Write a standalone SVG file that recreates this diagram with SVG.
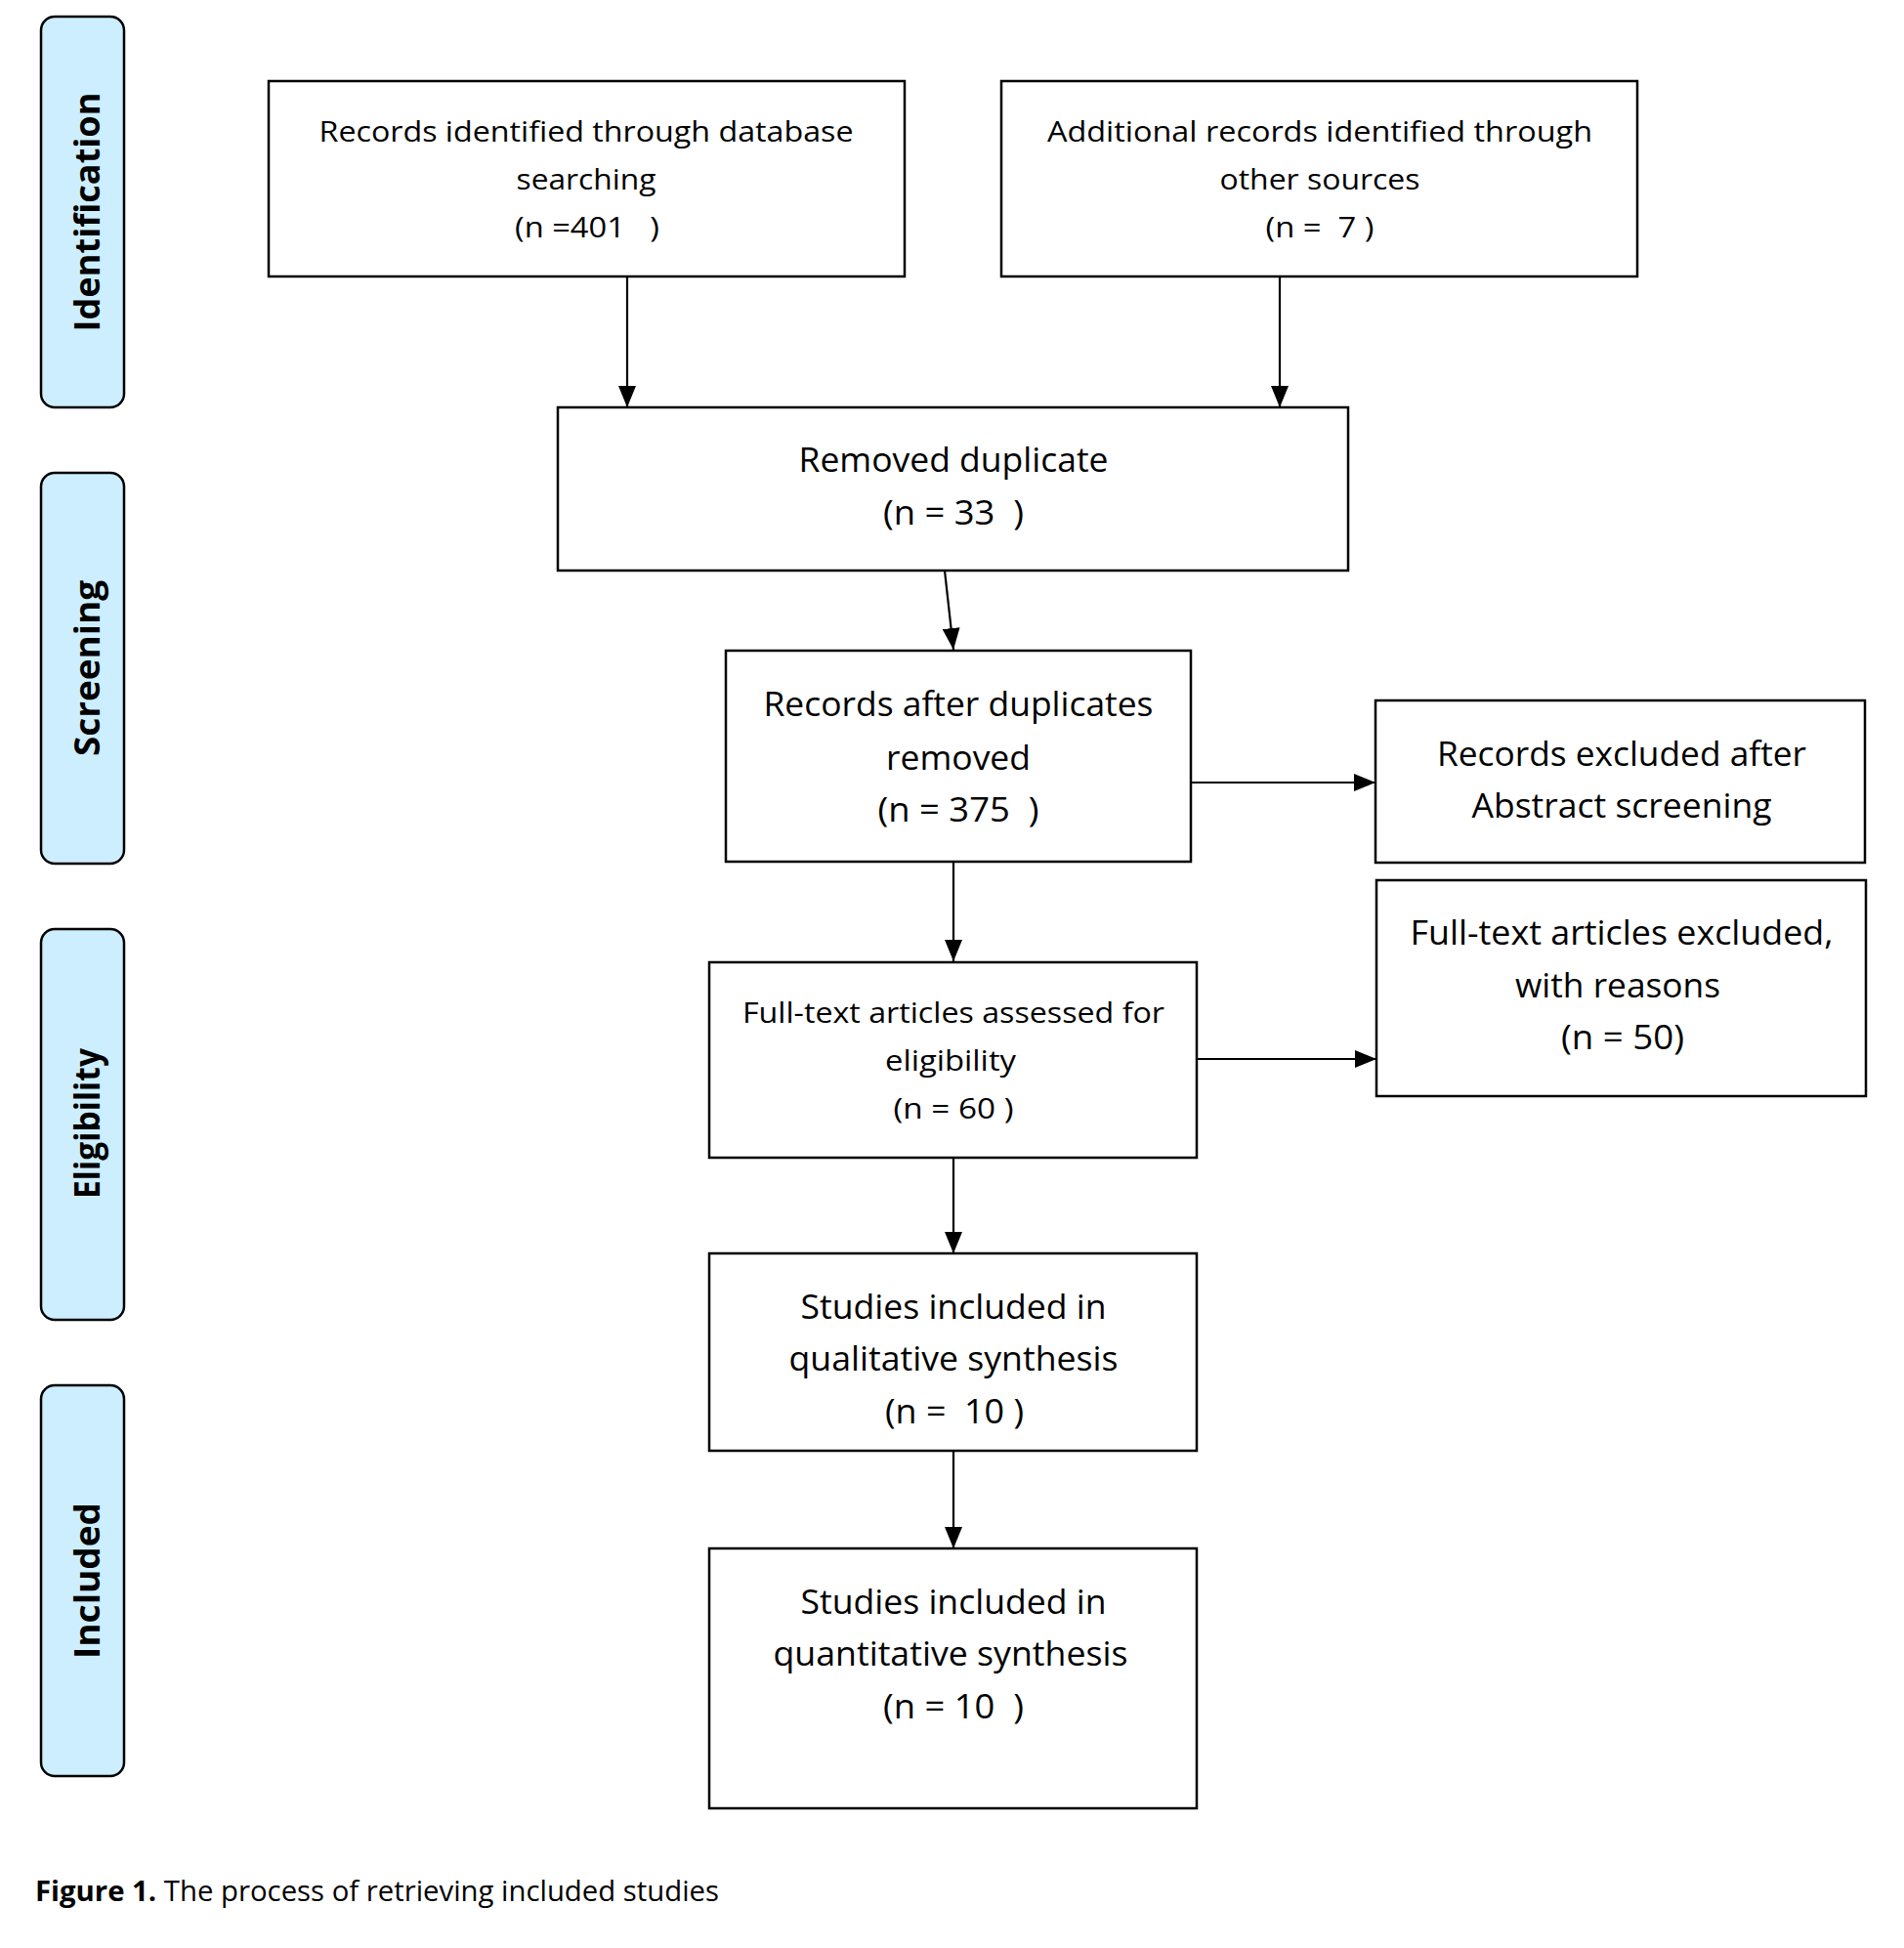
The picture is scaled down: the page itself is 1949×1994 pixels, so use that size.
<svg xmlns="http://www.w3.org/2000/svg" width="1949" height="1994" viewBox="0 0 1949 1994">
<defs>
<marker id="ah" markerWidth="22" markerHeight="18" refX="22" refY="9" orient="auto" markerUnits="userSpaceOnUse">
<path d="M0,0 L22,9 L0,18 Z" fill="#000"/>
</marker>
<style>
.box{fill:#fff;stroke:#000;stroke-width:2.5}
.stage{fill:#cceeff;stroke:#000;stroke-width:2.5}
.t{font-family:"Open Sans","Noto Sans","Liberation Sans",sans-serif;fill:#000;text-anchor:middle;white-space:pre}
.s{font-family:"Open Sans","Noto Sans","Liberation Sans",sans-serif;font-weight:bold;font-size:36px;fill:#000;text-anchor:middle}
.c{stroke:#000;stroke-width:2.2;fill:none;marker-end:url(#ah)}
.cap{font-family:"Open Sans","Noto Sans","Liberation Sans",sans-serif;font-size:29px;fill:#000}
</style>
</defs>
<rect width="1949" height="1994" fill="#fff"/>

<g id="stage-identification">
<rect class="stage" x="42" y="17" width="85" height="400" rx="14"/>
<text class="s" transform="translate(102,217) rotate(-90)" textLength="245" lengthAdjust="spacingAndGlyphs">Identification</text>
</g>
<g id="stage-screening">
<rect class="stage" x="42" y="484" width="85" height="400" rx="14"/>
<text class="s" transform="translate(102,684) rotate(-90)" textLength="180" lengthAdjust="spacingAndGlyphs">Screening</text>
</g>
<g id="stage-eligibility">
<rect class="stage" x="42" y="951" width="85" height="400" rx="14"/>
<text class="s" transform="translate(102,1150) rotate(-90)" textLength="154" lengthAdjust="spacingAndGlyphs">Eligibility</text>
</g>
<g id="stage-included">
<rect class="stage" x="42" y="1418" width="85" height="400" rx="14"/>
<text class="s" transform="translate(102,1618) rotate(-90)" textLength="160" lengthAdjust="spacingAndGlyphs">Included</text>
</g>

<g id="connectors">
<line class="c" x1="642" y1="283" x2="642" y2="417"/>
<line class="c" x1="1310" y1="283" x2="1310" y2="417"/>
<line class="c" x1="967" y1="584" x2="976" y2="665"/>
<line class="c" x1="1219" y1="801" x2="1408" y2="801"/>
<line class="c" x1="976" y1="882" x2="976" y2="984"/>
<line class="c" x1="1225" y1="1084" x2="1409" y2="1084"/>
<line class="c" x1="976" y1="1185" x2="976" y2="1283"/>
<line class="c" x1="976" y1="1485" x2="976" y2="1585"/>
</g>

<g id="node-database">
<rect class="box" x="275" y="83" width="651" height="200"/>
<text class="t" font-size="30" x="600" y="145" textLength="547" lengthAdjust="spacingAndGlyphs">Records identified through database</text>
<text class="t" font-size="30" x="600" y="194" textLength="143" lengthAdjust="spacingAndGlyphs">searching</text>
<text class="t" font-size="30" x="601" y="243" textLength="148" lengthAdjust="spacingAndGlyphs">(n =401   )</text>
</g>
<g id="node-other">
<rect class="box" x="1025" y="83" width="651" height="200"/>
<text class="t" font-size="30" x="1351" y="145" textLength="558" lengthAdjust="spacingAndGlyphs">Additional records identified through</text>
<text class="t" font-size="30" x="1351" y="194" textLength="205" lengthAdjust="spacingAndGlyphs">other sources</text>
<text class="t" font-size="30" x="1351" y="243" textLength="111" lengthAdjust="spacingAndGlyphs">(n =  7 )</text>
</g>
<g id="node-removed">
<rect class="box" x="571" y="417" width="809" height="167"/>
<text class="t" font-size="34" x="976" y="483" textLength="317" lengthAdjust="spacingAndGlyphs">Removed duplicate</text>
<text class="t" font-size="34" x="976" y="537" textLength="144" lengthAdjust="spacingAndGlyphs">(n = 33  )</text>
</g>
<g id="node-after">
<rect class="box" x="743" y="666" width="476" height="216"/>
<text class="t" font-size="34" x="981" y="733" textLength="399" lengthAdjust="spacingAndGlyphs">Records after duplicates</text>
<text class="t" font-size="34" x="981" y="788" textLength="148" lengthAdjust="spacingAndGlyphs">removed</text>
<text class="t" font-size="34" x="981" y="841" textLength="165" lengthAdjust="spacingAndGlyphs">(n = 375  )</text>
</g>
<g id="node-excluded-abstract">
<rect class="box" x="1408" y="717" width="501" height="166"/>
<text class="t" font-size="34" x="1660" y="784" textLength="378" lengthAdjust="spacingAndGlyphs">Records excluded after</text>
<text class="t" font-size="34" x="1660" y="837" textLength="307" lengthAdjust="spacingAndGlyphs">Abstract screening</text>
</g>
<g id="node-fulltext">
<rect class="box" x="726" y="985" width="499" height="200"/>
<text class="t" font-size="30" x="976" y="1047" textLength="432" lengthAdjust="spacingAndGlyphs">Full-text articles assessed for</text>
<text class="t" font-size="30" x="973" y="1096" textLength="134" lengthAdjust="spacingAndGlyphs">eligibility</text>
<text class="t" font-size="30" x="976" y="1145" textLength="123" lengthAdjust="spacingAndGlyphs">(n = 60 )</text>
</g>
<g id="node-excluded-fulltext">
<rect class="box" x="1409" y="901" width="501" height="221"/>
<text class="t" font-size="34" x="1660" y="967" textLength="433" lengthAdjust="spacingAndGlyphs">Full-text articles excluded,</text>
<text class="t" font-size="34" x="1656" y="1021" textLength="210" lengthAdjust="spacingAndGlyphs">with reasons</text>
<text class="t" font-size="34" x="1661" y="1074" textLength="126" lengthAdjust="spacingAndGlyphs">(n = 50)</text>
</g>
<g id="node-qualitative">
<rect class="box" x="726" y="1283" width="499" height="202"/>
<text class="t" font-size="34" x="976" y="1350" textLength="313" lengthAdjust="spacingAndGlyphs">Studies included in</text>
<text class="t" font-size="34" x="976" y="1403" textLength="337" lengthAdjust="spacingAndGlyphs">qualitative synthesis</text>
<text class="t" font-size="34" x="977" y="1457" textLength="142" lengthAdjust="spacingAndGlyphs">(n =  10 )</text>
</g>
<g id="node-quantitative">
<rect class="box" x="726" y="1585" width="499" height="266"/>
<text class="t" font-size="34" x="976" y="1652" textLength="313" lengthAdjust="spacingAndGlyphs">Studies included in</text>
<text class="t" font-size="34" x="973" y="1705" textLength="363" lengthAdjust="spacingAndGlyphs">quantitative synthesis</text>
<text class="t" font-size="34" x="976" y="1759" textLength="144" lengthAdjust="spacingAndGlyphs">(n = 10  )</text>
</g>

<text class="cap" x="36" y="1946" textLength="700" lengthAdjust="spacingAndGlyphs"><tspan font-weight="bold">Figure 1.</tspan> The process of retrieving included studies</text>
</svg>
